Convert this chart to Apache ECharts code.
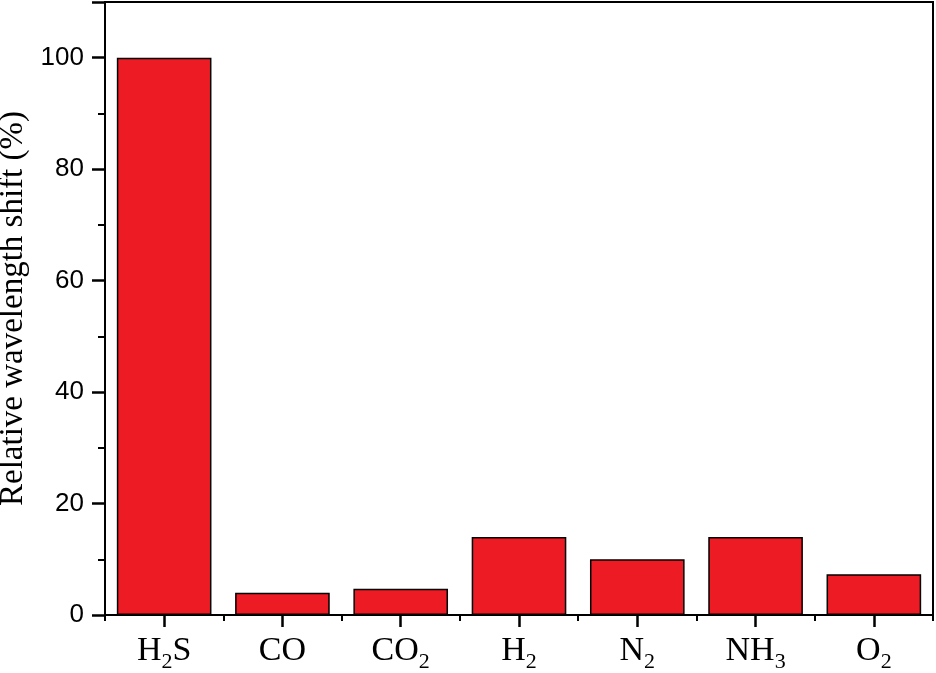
<!DOCTYPE html>
<html><head><meta charset="utf-8">
<script src="https://cdn.jsdelivr.net/npm/echarts@6/dist/echarts.min.js"></script>
<style>html,body{margin:0;padding:0;background:#fff}#c{width:936px;height:673px}</style>
</head><body><div id="c"></div>
<script>
const categories = ['H2S','CO','CO2','H2','N2','NH3','O2'];
const values = [100, 4, 4.7, 14, 10, 14, 7.3];
const yName = 'Relative wavelength shift (%)';

function sub(s){
  return s.replace(/([A-Za-z]+)|(\d+)/g, (m, a, d) => a ? '{n|' + a + '}' : '{s|' + d + '}');
}

const chart = echarts.init(document.getElementById('c'));
chart.setOption({
  animation: false,
  grid: {left: 105, right: 3, top: 2, bottom: 58, show: true, borderColor: '#000', borderWidth: 2,
         containLabel: false, outerBoundsMode: 'none'},
  xAxis: [{
    type: 'category', data: categories, position: 'bottom',
    axisLine: {show: true, lineStyle: {color: '#000', width: 2}},
    axisTick: {show: true, inside: false, alignWithLabel: true, interval: 0, length: 12, lineStyle: {color: '#000', width: 2.5}},
    axisLabel: {show: true, interval: 0, margin: 11, verticalAlign: 'top', formatter: v => sub(v), rich: {
      n: {fontFamily: 'Liberation Serif', fontSize: 34, lineHeight: 50, color: '#000'},
      s: {fontFamily: 'Liberation Serif', fontSize: 22, lineHeight: 26, color: '#000', padding: [22, 0, 0, 0]}
    }}
  }, {
    type: 'category', data: categories, position: 'bottom',
    axisLine: {show: false},
    axisTick: {show: true, inside: false, alignWithLabel: false, interval: 0, length: 6, lineStyle: {color: '#000', width: 2}},
    axisLabel: {show: false}
  }],
  yAxis: {
    type: 'value', min: 0, max: 110, interval: 20,
    name: yName, nameLocation: 'middle', nameGap: 72, nameRotate: 90,
    nameTextStyle: {fontFamily: 'Liberation Serif', fontSize: 33, color: '#000'},
    axisLine: {show: true, lineStyle: {color: '#000', width: 2}},
    axisTick: {show: true, inside: false, length: 13, lineStyle: {color: '#000', width: 2.5}},
    minorTick: {show: true, splitNumber: 2, length: 7, lineStyle: {color: '#000', width: 2}},
    splitLine: {show: false},
    axisLabel: {margin: 21, fontFamily: 'Liberation Sans', fontSize: 26, color: '#000',
      formatter: v => v > 100 ? '' : v}
  },
  series: [{
    type: 'bar', data: values, xAxisIndex: 0, barCategoryGap: '20%',
    itemStyle: {color: '#ed1c24', borderColor: '#000', borderWidth: 1.5}
  }]
});
</script></body></html>
